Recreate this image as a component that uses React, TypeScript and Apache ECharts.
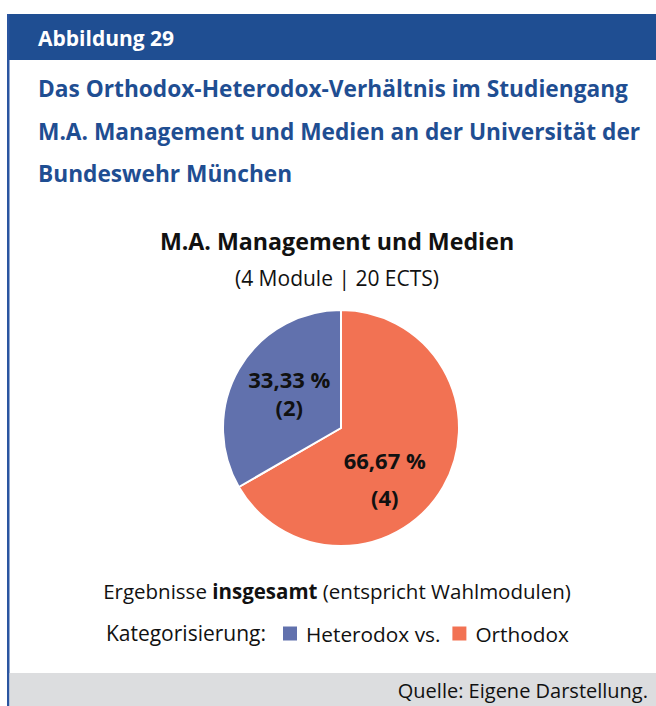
import React, { useEffect, useRef } from "react";
import * as echarts from "echarts";

const figureLabel = "Abbildung 29";
const titleLines = [
  "Das Orthodox-Heterodox-Verhältnis im Studiengang",
  "M.A. Management und Medien an der Universität der",
  "Bundeswehr München",
];
const chartTitle = "M.A. Management und Medien";
const chartSubtitle = "(4 Module | 20 ECTS)";
const categories = ["Orthodox", "Heterodox"];
const values = [4, 2];
const colors = ["#F27253", "#6171AD"];
const legendNames = ["Heterodox vs.", "Orthodox"];
const sourceText = "Quelle: Eigene Darstellung.";

const FONT = "'Open Sans', sans-serif";
const BLUE = "#1F4E92";

export default function App() {
  const ref = useRef<HTMLDivElement>(null);
  useEffect(() => {
    document.body.style.margin = "0";
    const chart = echarts.init(ref.current!, undefined, { renderer: "svg" });
    const data = categories.map((c, i) => ({
      name: c,
      value: values[i],
      itemStyle: { color: colors[i] },
    }));
    chart.setOption({
      animation: false,
      textStyle: { fontFamily: FONT },
      legend: {
        data: ["Heterodox", "Orthodox"],
        formatter: (n: string) => legendNames[n === "Heterodox" ? 0 : 1],
        left: 281,
        top: 623,
        icon: "rect",
        itemWidth: 16,
        itemHeight: 16,
        itemGap: 10,
        padding: 0,
        selectedMode: false,
        textStyle: { fontSize: 20.8, color: "#111", fontFamily: FONT, lineHeight: 20, padding: [0, 0, 0, 3] },
      },
      graphic: [
        { type: "rect", shape: { x: 7, y: 14, width: 649, height: 46 }, style: { fill: BLUE } },
        { type: "rect", shape: { x: 7, y: 14, width: 2.5, height: 692 }, style: { fill: "#2A55A0" } },
        { type: "rect", shape: { x: 9.5, y: 673, width: 646.5, height: 33 }, style: { fill: "#DCDDDF" } },
        {
          type: "text",
          x: 38,
          y: 38,
          style: { text: figureLabel, fill: "#fff", font: `bold 21px ${FONT}`, verticalAlign: "middle" },
        },
        ...titleLines.map((t, i) => ({
          type: "text",
          x: 38,
          y: [88, 131, 173][i],
          style: { text: t, fill: BLUE, font: `bold 22.7px ${FONT}`, verticalAlign: "middle" },
        })),
        {
          type: "text",
          x: 337,
          y: 241,
          style: { text: chartTitle, fill: "#111", font: `bold 23.2px ${FONT}`, align: "center", verticalAlign: "middle" },
        },
        {
          type: "text",
          x: 337,
          y: 278,
          style: { text: chartSubtitle, fill: "#111", font: `21px ${FONT}`, align: "center", verticalAlign: "middle" },
        },
        {
          type: "text",
          x: 337,
          y: 591,
          style: {
            text: "{r|Ergebnisse }{b|insgesamt}{r| (entspricht Wahlmodulen)}",
            align: "center",
            verticalAlign: "middle",
            rich: {
              r: { fontSize: 20.5, fontFamily: FONT, fill: "#111" } as any,
              b: { fontSize: 20.5, fontFamily: FONT, fontWeight: "bold", fill: "#111" } as any,
            },
          },
        },
        {
          type: "text",
          x: 266,
          y: 633,
          style: { text: "Kategorisierung:", fill: "#111", font: `21px ${FONT}`, align: "right", verticalAlign: "middle" },
        },
        {
          type: "text",
          x: 648,
          y: 690,
          style: { text: sourceText, fill: "#111", font: `20px ${FONT}`, align: "right", verticalAlign: "middle" },
        },
      ],
      series: [
        {
          type: "pie",
          center: [341, 428],
          radius: 118,
          startAngle: 90,
          clockwise: true,
          silent: true,
          itemStyle: { borderColor: "#fff", borderWidth: 2 },
          label: {
            show: true,
            position: "inside",
            formatter: (p: any) => {
              const pct = p.percent.toFixed(2).replace(".", ",");
              const s = p.dataIndex === 0 ? "a" : "b";
              return `{p${s}|${pct} %}\n{n${s}|(${p.value})}`;
            },
            rich: {
              pa: { fontSize: 22, fontWeight: "bold", color: "#111", fontFamily: FONT, lineHeight: 37 },
              na: { fontSize: 22, fontWeight: "bold", color: "#111", fontFamily: FONT, lineHeight: 37 },
              pb: { fontSize: 22, fontWeight: "bold", color: "#111", fontFamily: FONT, lineHeight: 28 },
              nb: { fontSize: 22, fontWeight: "bold", color: "#111", fontFamily: FONT, lineHeight: 28 },
            },
          },
          labelLine: { show: false },
          labelLayout: (p: any) => (p.dataIndex === 0 ? { dx: -10, dy: 19 } : { dx: 2, dy: -4 }),
          data,
        },
      ],
    });
    return () => chart.dispose();
  }, []);
  return <div ref={ref} style={{ width: 656, height: 706 }} />;
}
